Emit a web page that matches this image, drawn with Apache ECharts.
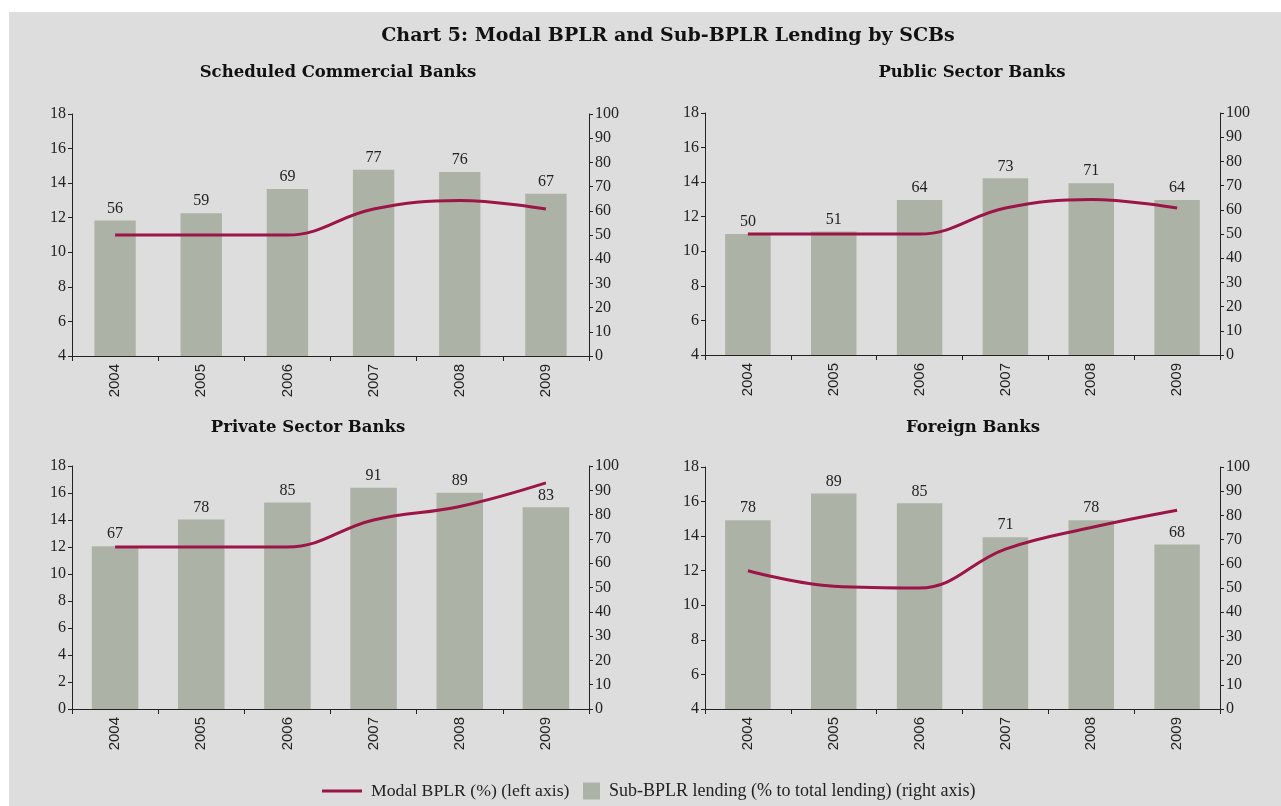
<!DOCTYPE html>
<html>
<head>
<meta charset="utf-8">
<script src="https://cdn.jsdelivr.net/npm/echarts@6/dist/echarts.min.js"></script>
<style>
html,body{margin:0;padding:0;background:#ffffff;}
#c{width:1281px;height:806px;}
</style>
</head>
<body>
<div id="c"></div>
<script>
// ---- data ----
var years = ['2004', '2005', '2006', '2007', '2008', '2009'];

var scbBplr = [11, 11, 11, 12.5, 13, 12.5];
var scbSub  = [56, 59, 69, 77, 76, 67];

var psbBplr = [11, 11, 11, 12.5, 13, 12.5];
var psbSub  = [50, 51, 64, 73, 71, 64];

var pvtBplr = [12, 12, 12, 14, 15, 16.75];
var pvtSub  = [67, 78, 85, 91, 89, 83];

var fbBplr  = [12, 11.1, 11, 13.25, 14.5, 15.5];
var fbSub   = [78, 89, 85, 71, 78, 68];

var panelTitles = ['Scheduled Commercial Banks', 'Public Sector Banks', 'Private Sector Banks', 'Foreign Banks'];
var leftMins = [4, 4, 0, 4];
var mainTitle = 'Chart 5: Modal BPLR and Sub-BPLR Lending by SCBs';
var lineName = 'Modal BPLR (%) (left axis)';
var barName = 'Sub-BPLR lending (% to total lending) (right axis)';

var bplrSets = [scbBplr, psbBplr, pvtBplr, fbBplr];
var subSets = [scbSub, psbSub, pvtSub, fbSub];

// ---- layout / style ----
var grids = [
  {left: 72, top: 114, width: 517, height: 242},
  {left: 705, top: 113, width: 515, height: 242},
  {left: 72, top: 466, width: 517, height: 243},
  {left: 705, top: 467, width: 515, height: 242}
];
var titlePos = [[333, 59], [967, 59], [303, 414], [968, 414]];
var barWidths = ['48%', '53%', '54%', '53%'];
var SERIF = '"Liberation Serif", "DejaVu Serif", serif';
var WSERIF = '"DejaVu Serif", "Liberation Serif", serif';
var SANS = '"Liberation Sans", Arial, sans-serif';
var AX = '#222222';
var BAR = '#adb2a6';
var LINE = '#9c1547';

var option = {
  animation: false,
  backgroundColor: '#ffffff',
  graphic: [{
    type: 'rect', z: -100, silent: true,
    shape: {x: 9, y: 12, width: 1272, height: 794},
    style: {fill: '#dddddd'}
  }],
  title: [],
  grid: [],
  xAxis: [],
  yAxis: [],
  series: [],
  legend: [
    {
      left: 322, top: 782, padding: 0,
      data: [{name: lineName, icon: 'rect'}],
      itemWidth: 40, itemHeight: 3, itemGap: 0,
      textStyle: {fontFamily: SERIF, fontSize: 17.7, color: AX, padding: [0, 0, 0, 4]}
    },
    {
      left: 583, top: 782, padding: 0,
      data: [{name: barName, icon: 'rect'}],
      itemWidth: 17, itemHeight: 17, itemGap: 0,
      textStyle: {fontFamily: SERIF, fontSize: 18, color: AX, padding: [0, 0, 0, 4]}
    }
  ]
};

option.title.push({
  text: mainTitle, left: 663, top: 22, textAlign: 'center',
  textStyle: {fontFamily: WSERIF, fontWeight: 'bold', fontSize: 19, color: '#111'}
});

for (var i = 0; i < 4; i++) {
  option.title.push({
    text: panelTitles[i], left: titlePos[i][0], top: titlePos[i][1], textAlign: 'center',
    textStyle: {fontFamily: WSERIF, fontWeight: 'bold', fontSize: 16.5, color: '#111'}
  });
  option.grid.push(Object.assign({containLabel: false}, grids[i]));
  option.xAxis.push({
    type: 'category', gridIndex: i, data: years,
    axisLine: {lineStyle: {color: AX, width: 1}},
    axisTick: {show: true, length: 5, lineStyle: {color: AX}},
    axisLabel: {rotate: 90, fontFamily: SANS, fontSize: 15, color: AX, margin: 8}
  });
  option.yAxis.push({
    type: 'value', gridIndex: i, position: 'left',
    min: leftMins[i], max: 18, interval: 2,
    axisLine: {show: true, lineStyle: {color: AX}},
    axisTick: {show: true, length: 4, lineStyle: {color: AX}},
    splitLine: {show: false},
    axisLabel: {fontFamily: SERIF, fontSize: 16, color: AX, margin: 6}
  });
  option.yAxis.push({
    type: 'value', gridIndex: i, position: 'right',
    min: 0, max: 100, interval: 10,
    axisLine: {show: true, lineStyle: {color: AX}},
    axisTick: {show: true, length: 4, lineStyle: {color: AX}},
    splitLine: {show: false},
    axisLabel: {fontFamily: SERIF, fontSize: 16, color: AX, margin: 6}
  });
}

for (var j = 0; j < 4; j++) {
  option.series.push({
    name: barName, type: 'bar', xAxisIndex: j, yAxisIndex: j * 2 + 1,
    data: subSets[j], barWidth: barWidths[j],
    itemStyle: {color: BAR},
    label: {show: true, position: 'top', distance: 4, fontFamily: SERIF, fontSize: 16, color: AX}
  });
}
for (var k = 0; k < 4; k++) {
  option.series.push({
    name: lineName, type: 'line', xAxisIndex: k, yAxisIndex: k * 2,
    data: bplrSets[k], smooth: 0.4, symbol: 'none', z: 5,
    lineStyle: {color: LINE, width: 3},
    itemStyle: {color: LINE}
  });
}

var chart = echarts.init(document.getElementById('c'), null, {renderer: 'canvas'});
chart.setOption(option);
</script>
</body>
</html>
